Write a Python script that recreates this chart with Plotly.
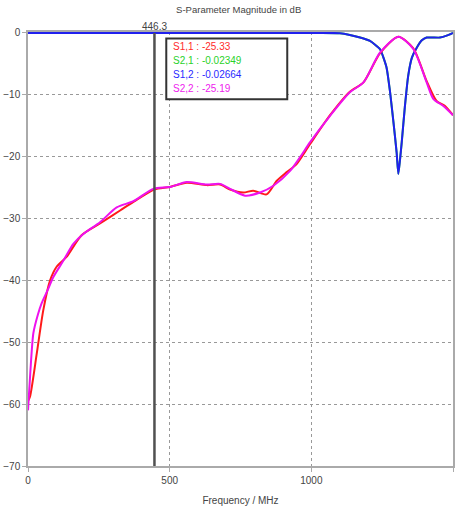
import plotly.graph_objects as go

# ---- data ----
s22_freq = [0, 8, 19, 35, 48, 70, 89, 125, 160, 195, 254, 313, 372, 442, 501, 560, 631, 678, 713, 766, 819, 866, 925, 960, 995, 1066, 1136, 1184, 1242, 1307, 1360, 1407, 1431, 1466, 1500]
s22_db = [-61, -55, -48.5, -45.5, -43.7, -41.5, -39.5, -36.8, -34.1, -32.5, -30.6, -28.2, -27.2, -25.2, -24.9, -24.1, -24.5, -24.4, -25.2, -26.3, -25.8, -24.7, -22.3, -20.1, -17.7, -13.4, -9.6, -8.0, -3.2, -0.6, -2.6, -8.0, -10.7, -11.8, -13.3]

s11_freq = [0, 7, 31, 54, 78, 101, 136, 189, 254, 325, 372, 446, 501, 560, 631, 678, 713, 760, 795, 842, 878, 913, 948, 995, 1066, 1136, 1184, 1242, 1307, 1360, 1407, 1442, 1472, 1500]
s11_db = [-59.5, -58.8, -51.8, -44.8, -40, -37.8, -36.2, -32.7, -30.8, -28.7, -27.3, -25.3, -24.9, -24.2, -24.6, -24.5, -25.3, -25.8, -25.5, -26.1, -23.9, -22.5, -21.2, -18, -13.3, -9.5, -8.0, -3.3, -0.6, -2.5, -7.8, -11.0, -11.8, -13.3]

s12_freq = [0, 500, 1000, 1101, 1172, 1207, 1242, 1265, 1278, 1290, 1301, 1307, 1313, 1319, 1330, 1342, 1355, 1372, 1390, 1407, 1454, 1480, 1500]
s12_db = [0, 0, 0, -0.05, -0.75, -1.3, -2.6, -5.5, -9.6, -14.5, -19.3, -22.8, -20.5, -17.7, -12, -6.9, -4, -2.4, -1.2, -0.75, -0.75, -0.4, 0]

s21_freq = s12_freq
s21_db = s12_db

marker_freq = 446.3
legend_labels = ["S1,1 : -25.33", "S2,1 : -0.02349", "S1,2 : -0.02664", "S2,2 : -25.19"]
legend_colors = ["#ff2a2a", "#2ad22a", "#2a2aff", "#ee22ee"]

x_ticks = [0, 500, 1000, 1500]
y_ticks = [0, -10, -20, -30, -40, -50, -60, -70]

FONT = "Liberation Sans, Arial, sans-serif"

fig = go.Figure()
fig.add_trace(go.Scatter(x=s21_freq, y=s21_db, mode="lines", line=dict(color=legend_colors[1], width=2, shape="spline", smoothing=0.5)))
fig.add_trace(go.Scatter(x=s12_freq, y=s12_db, mode="lines", line=dict(color="#2020ee", width=2, shape="spline", smoothing=0.5)))
fig.add_trace(go.Scatter(x=s11_freq, y=s11_db, mode="lines", line=dict(color="#ff1a1a", width=2, shape="spline", smoothing=0.7)))
fig.add_trace(go.Scatter(x=s22_freq, y=s22_db, mode="lines", line=dict(color="#ee11ee", width=2, shape="spline", smoothing=0.7)))

# marker line
fig.add_shape(type="line", x0=marker_freq, x1=marker_freq, y0=-70, y1=0, xref="x", yref="y",
              line=dict(color="#505050", width=2.5))
fig.add_annotation(x=marker_freq, y=0, xref="x", yref="y", text=f"{marker_freq}", showarrow=False,
                   yanchor="bottom", yshift=-1, font=dict(family=FONT, size=10, color="#444"))

# legend box
fig.add_shape(type="rect", x0=488, x1=915, y0=-0.9, y1=-10.7, xref="x", yref="y",
              line=dict(color="#333", width=2), fillcolor="white", layer="above")
ys = [-2.26, -4.52, -6.77, -9.05]
for lab, col, yy in zip(legend_labels, legend_colors, ys):
    fig.add_annotation(x=505, y=yy, xref="x", yref="y", text=lab, showarrow=False,
                       xanchor="left", yanchor="middle", font=dict(family=FONT, size=10, color=col))

fig.update_layout(
    width=459, height=508,
    margin=dict(l=28, r=6, t=32, b=42),
    paper_bgcolor="white", plot_bgcolor="white",
    showlegend=False,
    font=dict(family=FONT, size=10, color="#444"),
    title=dict(text="S-Parameter Magnitude in dB", x=0.52, xanchor="center", y=0.988, yanchor="top",
               font=dict(family=FONT, size=9.5, color="#444")),
)
fig.update_xaxes(range=[0, 1500], tickvals=x_ticks, showgrid=True, gridcolor="#999", griddash="dot", gridwidth=1,
                 showline=True, linecolor="#aaa", linewidth=2, mirror=True, ticks="outside", ticklen=4,
                 tickcolor="#aaa", zeroline=False, automargin=False,
                 title=dict(text="Frequency / MHz", standoff=12, font=dict(family=FONT, size=10, color="#444")))
fig.update_yaxes(range=[-70, 0.15], tickvals=y_ticks, showgrid=True, gridcolor="#999", griddash="dot", gridwidth=1,
                 showline=True, linecolor="#aaa", linewidth=1.5, mirror=True, ticks="outside", ticklen=4,
                 tickcolor="#aaa", zeroline=False, automargin=False, ticklabelstandoff=0)

fig.write_html("out.html", config={"displayModeBar": False},
               post_script="document.body.style.margin='0';")
